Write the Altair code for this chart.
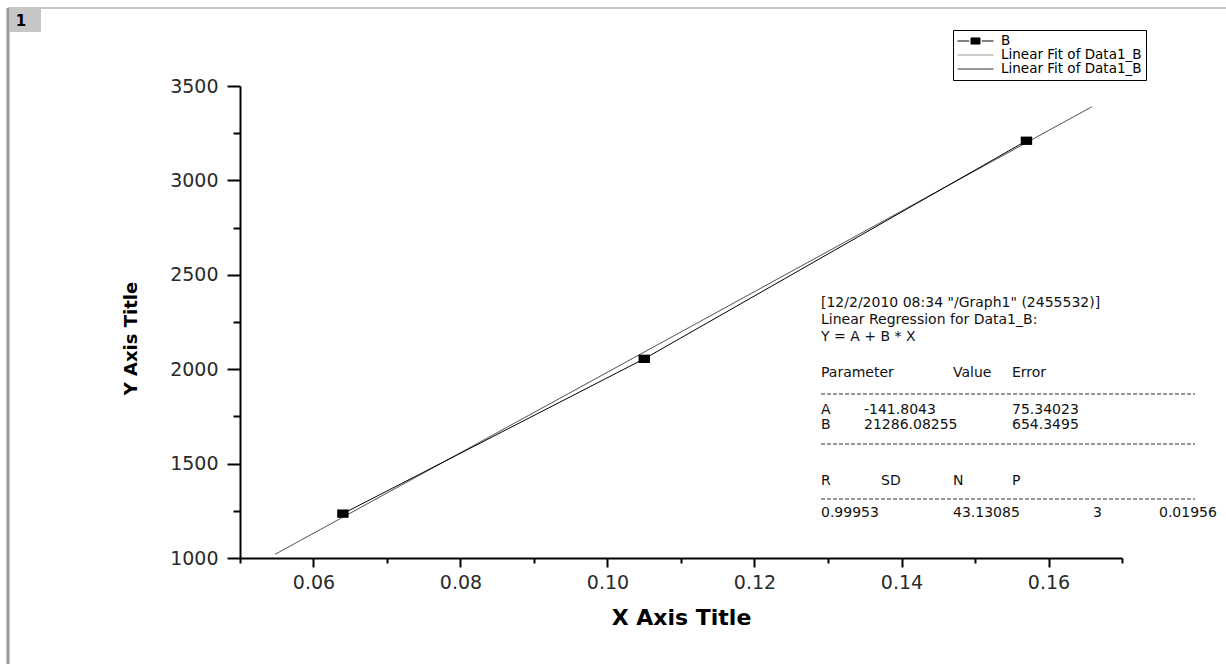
import altair as alt
import pandas as pd

# ---------------- data ----------------
x_vals = [0.064, 0.105, 0.157]
y_vals = [1235, 2055, 3210]
fit_x = [0.0548, 0.1659]
fit_y = [1020, 3390]

series_names = ["B", "Fit1", "Fit2"]
series_labels = ["B", "Linear Fit of Data1_B", "Linear Fit of Data1_B"]

x_ticks = [0.05, 0.06, 0.07, 0.08, 0.09, 0.10, 0.11, 0.12, 0.13, 0.14, 0.15, 0.16, 0.17]
y_ticks = [1000, 1250, 1500, 1750, 2000, 2250, 2500, 2750, 3000, 3250, 3500]

header_lines = ['[12/2/2010 08:34 "/Graph1" (2455532)]',
                'Linear Regression for Data1_B:',
                'Y = A + B * X']
table_rows = [["Parameter", "Value", "Error"],
              ["A", "-141.8043", "75.34023"],
              ["B", "21286.08255", "654.3495"],
              ["R", "SD", "N", "P"],
              ["0.99953", "43.13085", "3", "0.01956"]]

# ---------------- layout (pixels) ----------------
W, H = 882, 472
PL, PT = 240, 86
FONT = "DejaVu Sans"

header_y = [303, 320, 337]
row_y = [373, 410, 425, 481, 513]
row_x = [[821, 953, 1012],
         [821, 864, 1012],
         [821, 864, 1012],
         [821, 881, 953, 1012],
         [821, 953, 1093, 1159]]
dash_y = [394, 444, 499]
dash_x = (821, 1195)

cells = []
for t, yy in zip(header_lines, header_y):
    cells.append({"text": t, "px": 821 - PL, "py": yy - PT})
for row, xs, yy in zip(table_rows, row_x, row_y):
    for t, xx in zip(row, xs):
        cells.append({"text": t, "px": xx - PL, "py": yy - PT})
text_df = pd.DataFrame(cells)
dash_df = pd.DataFrame({"px": [dash_x[0] - PL] * 3, "px2": [dash_x[1] - PL] * 3,
                        "py": [d - PT for d in dash_y]})

pts = pd.DataFrame({"x": x_vals, "y": y_vals, "series": ["B"] * len(x_vals)})
fit = pd.DataFrame({"x": fit_x, "y": fit_y})

xscale = alt.Scale(domain=[0.05, 0.17], nice=False, zero=False)
yscale = alt.Scale(domain=[1000, 3500], nice=False, zero=False)

x_axis = alt.Axis(
    values=x_ticks,
    labelExpr="round(datum.value*100) % 2 === 0 ? format(datum.value, '.2f') : ''",
    tickSize={"condition": {"test": "round(datum.value*100) % 2 === 0", "value": 9}, "value": 5},
    title="X Axis Title", titleFont=FONT, titleFontWeight="bold", titleFontSize=22,
    titleColor="black", titlePadding=15,
    labelFont=FONT, labelFontSize=19, labelColor="#2a2a2a", labelPadding=6,
    labelFlush=False, labelOverlap=False,
    domainColor="black", domainWidth=2, tickColor="black", tickWidth=2, grid=False,
)
y_axis = alt.Axis(
    values=y_ticks,
    labelExpr="datum.value % 500 === 0 ? format(datum.value, 'd') : ''",
    tickSize={"condition": {"test": "datum.value % 500 === 0", "value": 13}, "value": 7},
    title="Y Axis Title", titleFont=FONT, titleFontWeight="bold", titleFontSize=18,
    titleColor="black", titleX=-100, titleY=252,
    labelFont=FONT, labelFontSize=19, labelColor="#2a2a2a", labelPadding=9,
    labelFlush=False, labelOverlap=False,
    domainColor="black", domainWidth=2, tickColor="black", tickWidth=2, grid=False,
)

base_fit = alt.Chart(fit)
fit1 = base_fit.mark_line(color="#b0b0b0", strokeWidth=1).encode(
    x=alt.X("x:Q", scale=xscale, axis=x_axis),
    y=alt.Y("y:Q", scale=yscale, axis=y_axis),
)
fit2 = base_fit.mark_line(color="#6a6a6a", strokeWidth=1).encode(
    x=alt.X("x:Q", scale=xscale), y=alt.Y("y:Q", scale=yscale))

data_line = alt.Chart(pts).mark_line(color="black", strokeWidth=1).encode(
    x=alt.X("x:Q", scale=xscale), y=alt.Y("y:Q", scale=yscale))
data_pts = alt.Chart(pts).mark_point(
    shape="M-1,-0.73H1V0.73H-1Z", size=130, filled=True, color="black", opacity=1
).encode(x=alt.X("x:Q", scale=xscale), y=alt.Y("y:Q", scale=yscale))

# legend (built from an empty layer so only the legend shows)
legend_paths = ["M-1,0H-0.35M0.35,0H1M-0.25,-0.17H0.25V0.17H-0.25Z", "M-1,0H1", "M-1,0H1"]
fill_colors = ["black", "transparent", "transparent"]
stroke_colors = ["black", "#9a9a9a", "#333333"]
label_expr = " : ".join(
    [f"datum.value === '{n}' ? '{l}'" for n, l in zip(series_names, series_labels)]) + " : ''"
leg = alt.Legend(
    title=None, orient="none", legendX=713, legendY=-56, labelExpr=label_expr,
    symbolSize=1296, clipHeight=14, rowPadding=0, padding=4,
    strokeColor="black", fillColor="white",
    labelFont=FONT, labelFontSize=13.5, labelColor="black", labelOffset=7,
    symbolStrokeWidth=1, labelLimit=400,
)
legend_layer = alt.Chart(pts).transform_filter("datum.x < 0").mark_point(
    opacity=1, strokeWidth=1
).encode(
    x=alt.X("x:Q", scale=xscale), y=alt.Y("y:Q", scale=yscale),
    shape=alt.Shape("series:N", scale=alt.Scale(domain=series_names, range=legend_paths), legend=leg),
    fill=alt.Fill("series:N", scale=alt.Scale(domain=series_names, range=fill_colors), legend=leg),
    stroke=alt.Stroke("series:N", scale=alt.Scale(domain=series_names, range=stroke_colors), legend=leg),
)

# regression report text
report = alt.Chart(text_df).mark_text(
    align="left", baseline="middle", font=FONT, fontSize=14, color="#111"
).encode(
    x=alt.X("px:Q", scale=None, axis=None),
    y=alt.Y("py:Q", scale=None, axis=None),
    text="text:N",
)
dashes = alt.Chart(dash_df).mark_rule(color="#333", strokeWidth=1, strokeDash=[4, 2]).encode(
    x=alt.X("px:Q", scale=None, axis=None),
    x2="px2:Q",
    y=alt.Y("py:Q", scale=None, axis=None),
)

# window frame & page tag
top_line = alt.Chart(pts).mark_rule(color="#c8c8c8", strokeWidth=2).encode(
    x=alt.value(8 - PL), x2=alt.value(1226 - PL), y=alt.value(8 - PT))
left_line = alt.Chart(pts).mark_rule(color="#9a9a9a", strokeWidth=2.5).encode(
    x=alt.value(8 - PL), y=alt.value(8 - PT), y2=alt.value(664 - PT))
tag_box = alt.Chart(pts).mark_rect(color="#c6c6c6").encode(
    x=alt.value(9 - PL), x2=alt.value(41 - PL), y=alt.value(9 - PT), y2=alt.value(32 - PT))
tag_text = alt.Chart(pd.DataFrame({"t": ["1"]})).mark_text(
    font=FONT, fontSize=15, fontWeight="bold", color="black", align="center", baseline="middle"
).encode(x=alt.value(21 - PL), y=alt.value(21 - PT), text="t:N")

chart = alt.layer(
    top_line, left_line, tag_box, tag_text,
    fit1, fit2, data_line, data_pts, legend_layer, dashes, report,
).properties(
    width=W, height=H,
    autosize=alt.AutoSizeParams(type="none"),
    padding={"left": PL, "top": PT, "right": 1226 - PL - W, "bottom": 664 - PT - H},
    background="white",
).configure_view(stroke=None)

chart.save("out.html", embed_options={"renderer": "svg", "actions": False})
